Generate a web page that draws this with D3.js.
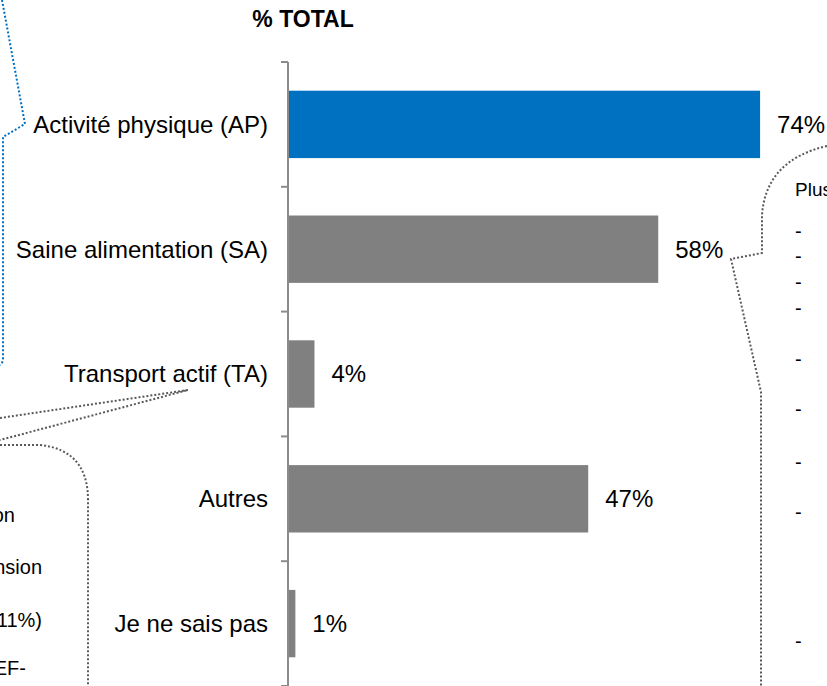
<!DOCTYPE html>
<html>
<head>
<meta charset="utf-8">
<script src="https://cdn.jsdelivr.net/npm/d3@7"></script>
<style>
  body { margin: 0; background: #fff; }
  svg { display: block; font-family: "Liberation Sans", Arial, sans-serif; }
</style>
</head>
<body>
<div id="chart"></div>
<script>
// data
const categories = ["Activité physique (AP)", "Saine alimentation (SA)", "Transport actif (TA)", "Autres", "Je ne sais pas"];
const values = [0.74, 0.58, 0.04, 0.47, 0.01];
const highlight = ["Activité physique (AP)"];
const title = "% TOTAL";

// bits of the neighbouring callouts that show in the crop
const leftNotes = ["on", "nsion", "11%)", "EF-"];
const rightTitle = "Plus";
const rightDashes = 9;

const width = 827, height = 686;

const svg = d3.select("#chart")
    .append("svg")
    .attr("width", width)
    .attr("height", height);

// scales
const x = d3.scaleLinear().domain([0, 1]).range([289, 925.6]);
const y = d3.scaleBand()
    .domain(categories)
    .range([62, 686])
    .paddingInner(0.46)
    .paddingOuter(0.23);

// title
svg.append("text")
    .attr("x", 303)
    .attr("y", 27)
    .attr("text-anchor", "middle")
    .style("font-size", "23px")
    .style("font-weight", "bold")
    .text(title);

// bars
svg.selectAll(".bar")
    .data(categories)
    .enter().append("rect")
    .attr("class", "bar")
    .attr("x", x(0))
    .attr("y", d => y(d))
    .attr("width", (d, i) => x(values[i]) - x(0))
    .attr("height", y.bandwidth())
    .attr("fill", d => highlight.includes(d) ? "#0070C0" : "#808080");

// value labels
svg.selectAll(".val")
    .data(categories)
    .enter().append("text")
    .attr("class", "val")
    .attr("x", (d, i) => x(values[i]) + 17)
    .attr("y", d => y(d) + y.bandwidth() / 2)
    .attr("dy", "0.35em")
    .style("font-size", "24px")
    .attr("fill", "#000")
    .text((d, i) => Math.round(values[i] * 100) + "%");

// category axis: line + ticks between bands
const axisX = 288;
svg.append("line")
    .attr("x1", axisX).attr("x2", axisX)
    .attr("y1", y.range()[0]).attr("y2", y.range()[1])
    .attr("stroke", "#8c8c8c")
    .attr("stroke-width", 2);

const bounds = categories.map(d => y(d) - y.step() * y.paddingInner() / 2);
bounds.push(y.range()[1]);
svg.selectAll(".tick")
    .data(bounds)
    .enter().append("line")
    .attr("class", "tick")
    .attr("x1", axisX - 7).attr("x2", axisX)
    .attr("y1", d => d).attr("y2", d => d)
    .attr("stroke", "#8c8c8c")
    .attr("stroke-width", 2);

svg.selectAll(".cat")
    .data(categories)
    .enter().append("text")
    .attr("class", "cat")
    .attr("x", 268)
    .attr("y", d => y(d) + y.bandwidth() / 2)
    .attr("dy", "0.35em")
    .attr("text-anchor", "end")
    .style("font-size", "24px")
    .text(d => d);

// callout outlines (dotted)
const blue = "#0070C0", grey = "#595959";
function callout(d, color) {
    svg.append("path")
        .attr("d", d)
        .attr("fill", "none")
        .attr("stroke", color)
        .attr("stroke-width", 2)
        .attr("stroke-dasharray", "2,2");
}
callout("M2,0 L25,124 L3,137 L3,358 Q3,363 0,365", blue);
callout("M0,418 L188,390 L0,440", grey);
callout("M0,445 L40,445 Q88,450 88,500 L88,686", grey);
callout("M827,146 Q766,160 762,215 L762,253 L731,259 L761,392 L761,686", grey);

// left callout text fragments
const leftY = [522, 574, 627, 675];
const leftEnd = [15, 42, 42, 26];
svg.selectAll(".lnote")
    .data(leftNotes)
    .enter().append("text")
    .attr("class", "lnote")
    .attr("x", (d, i) => leftEnd[i])
    .attr("y", (d, i) => leftY[i])
    .attr("text-anchor", "end")
    .style("font-size", "20px")
    .text(d => d);

// right callout
svg.append("text")
    .attr("x", 795)
    .attr("y", 196)
    .style("font-size", "19px")
    .text(rightTitle);

const dashY = [232, 257, 283, 309, 360, 410, 463, 513, 642];
svg.selectAll(".dash")
    .data(dashY.slice(0, rightDashes))
    .enter().append("text")
    .attr("class", "dash")
    .attr("x", 795)
    .attr("y", d => d + 6)
    .style("font-size", "20px")
    .text("-");
</script>
</body>
</html>
